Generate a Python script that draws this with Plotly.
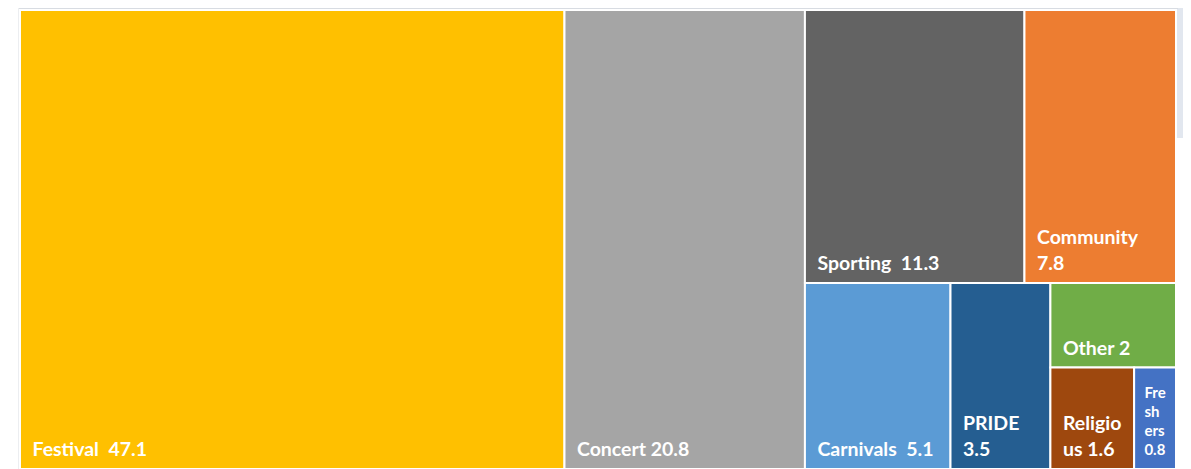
import plotly.graph_objects as go

labels = ["Festival", "Concert", "Sporting", "Community", "Carnivals",
          "PRIDE", "Other", "Religious", "Freshers"]
values = [47.1, 20.8, 11.3, 7.8, 5.1, 3.5, 2.0, 1.6, 0.8]
# label lines as they are wrapped in the reference
label_lines = [["Festival\u00a0\u00a047.1"], ["Concert 20.8"], ["Sporting\u00a0\u00a011.3"],
               ["Community", "7.8"], ["Carnivals\u00a0\u00a05.1"], ["PRIDE", "3.5"],
               ["Other 2"], ["Religio", "us 1.6"], ["Fre", "sh", "ers", "0.8"]]
colors = ["#FFC000", "#A5A5A5", "#636363", "#ED7D31", "#5B9BD5",
          "#255E91", "#70AD47", "#9E480E", "#4472C4"]
font_sizes = [19.5, 19.5, 19.5, 19.5, 19.5, 19.5, 19.5, 19.5, 15]


def build_text(lines, size):
    # small base font so that line breaks give fine vertical steps
    if size >= 18:
        base, k, lead = 6.67, 3, "\u00a0\u00a0"
    else:
        base, k, lead = 7.3, 2, "\u00a0\u00a0"
    sep = "<br>" * k
    body = sep.join(f"<span style='font-size:{size}px'>{lead}{ln}</span>" for ln in lines)
    return body + "<br>\u00a0", base


texts, bases = [], []
for ln, sz in zip(label_lines, font_sizes):
    t, b = build_text(ln, sz)
    texts.append(t)
    bases.append(b)

root = "Events"
all_labels = [root] + labels
all_parents = [""] + [root] * len(labels)
all_values = [0] + values
all_text = [""] + texts
all_colors = ["white"] + colors
all_sizes = [1] + bases

fig = go.Figure(go.Treemap(
    labels=all_labels,
    parents=all_parents,
    values=all_values,
    branchvalues="remainder",
    text=all_text,
    texttemplate="%{text}",
    textposition="bottom left",
    textfont=dict(family="Lato", color="white", size=all_sizes, weight="bold"),
    marker=dict(colors=all_colors, line=dict(color="white", width=2),
                pad=dict(t=0, l=0, r=0, b=0)),
    tiling=dict(packing="squarify", squarifyratio=1, pad=0),
    sort=True,
    pathbar=dict(visible=False),
    hoverinfo="label+value",
))

W, H = 1183, 461
ML, MR, MT, MB = 12, 15, 2, 0
pw, ph = W - ML - MR, H - MT - MB


def px_x(p):
    return (p - ML) / pw


def px_y(p):
    return 1 - (p - MT) / ph


fig.update_layout(
    width=W, height=H,
    margin=dict(l=ML, r=MR, t=MT, b=MB),
    paper_bgcolor="white",
    shapes=[
        dict(type="rect", xref="paper", yref="paper",
             x0=px_x(1169), x1=px_x(1183), y0=px_y(130), y1=px_y(0),
             fillcolor="#e2e7ef", line=dict(width=0), layer="below"),
        dict(type="line", xref="paper", yref="paper",
             x0=px_x(10), x1=px_x(1170), y0=px_y(0.5), y1=px_y(0.5),
             line=dict(color="#d8dce2", width=1)),
        dict(type="line", xref="paper", yref="paper",
             x0=px_x(10.5), x1=px_x(10.5), y0=px_y(0), y1=px_y(461),
             line=dict(color="#eceef1", width=1)),
    ],
)

fig.write_html("out.html")
